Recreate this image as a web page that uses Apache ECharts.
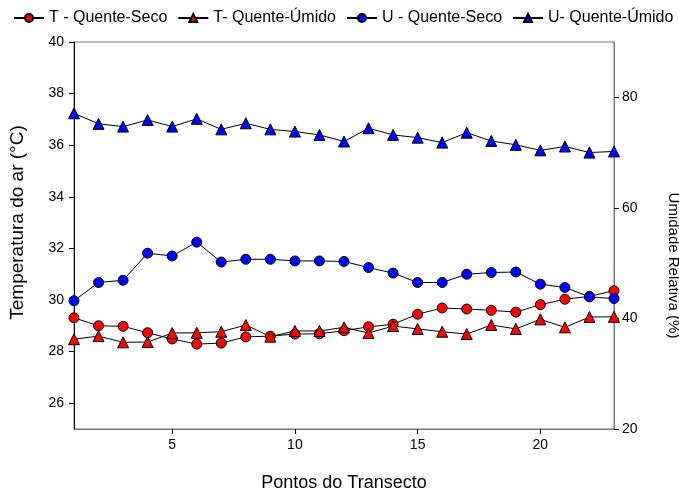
<!DOCTYPE html>
<html>
<head>
<meta charset="utf-8">
<script src="https://cdn.jsdelivr.net/npm/echarts@6/dist/echarts.min.js"></script>
<style>
  html, body { margin: 0; padding: 0; background: #fff; }
  #chart { width: 679px; height: 489px; }
</style>
</head>
<body>
<div id="chart"></div>
<script>
// pontos do transecto
const pontos = [1,2,3,4,5,6,7,8,9,10,11,12,13,14,15,16,17,18,19,20,21,22,23];

// temperatura (°C) - eixo esquerdo
const tQuenteSeco = [29.31,29.0,28.98,28.73,28.49,28.29,28.33,28.57,28.6,28.68,28.69,28.81,28.96,29.06,29.45,29.69,29.65,29.6,29.53,29.82,30.03,30.14,30.36];
const tQuenteUmido = [28.48,28.6,28.36,28.37,28.72,28.73,28.77,29.03,28.58,28.8,28.8,28.94,28.72,28.99,28.88,28.77,28.68,29.03,28.88,29.25,28.94,29.34,29.35];

// umidade relativa (%) - eixo direito
const uQuenteSeco = [43.2,46.5,46.9,51.8,51.3,53.8,50.2,50.7,50.7,50.4,50.4,50.3,49.2,48.2,46.5,46.5,48.0,48.3,48.4,46.2,45.6,43.9,43.6];
const uQuenteUmido = [77.1,75.2,74.7,75.9,74.7,76.1,74.2,75.3,74.2,73.8,73.2,72.0,74.4,73.2,72.7,71.8,73.6,72.1,71.4,70.4,71.1,70.0,70.2];

// marcas dos eixos
const xTicks = [5,10,15,20];
const tempTicks = [26,28,30,32,34,36,38,40];
const umidTicks = [20,40,60,80];

const chart = echarts.init(document.getElementById('chart'));

const font = 'Liberation Sans, Arial, sans-serif';

const pairs = (ys) => pontos.map((x, i) => [x, ys[i]]);

const mkSeries = (name, data, yIdx, symbol, color, size) => ({
  name: name,
  type: 'line',
  yAxisIndex: yIdx,
  data: pairs(data),
  symbol: symbol,
  symbolSize: size,
  lineStyle: { color: '#000', width: 1 },
  itemStyle: { color: color, borderColor: '#000', borderWidth: 1 },
  emphasis: { disabled: true },
  animation: false
});

const option = {
  animation: false,
  textStyle: { fontFamily: font },
  grid: {
    left: 74, right: 65, top: 42, bottom: 60,
    outerBoundsMode: 'none',
    containLabel: false,
    show: true, borderColor: '#777', borderWidth: 1
  },
  legend: {
    left: 8, top: 5,
    itemWidth: 30, itemHeight: 10, itemGap: 10,
    textStyle: { fontFamily: font, fontSize: 16, color: '#000' },
    data: ['T - Quente-Seco', 'T- Quente-Úmido', 'U - Quente-Seco', 'U- Quente-Úmido']
  },
  xAxis: {
    type: 'value',
    min: 1, max: 23,
    name: 'Pontos do Transecto',
    nameLocation: 'middle',
    nameGap: 45,
    nameTextStyle: { fontSize: 18, color: '#000' },
    axisLine: { lineStyle: { color: '#777' } },
    axisTick: { customValues: xTicks, length: 5, lineStyle: { color: '#000' } },
    axisLabel: { customValues: xTicks, fontSize: 14, color: '#000', margin: 9 },
    splitLine: { show: false }
  },
  yAxis: [
    {
      type: 'value',
      min: 25, max: 40,
      position: 'left',
      name: 'Temperatura do ar (°C)',
      nameLocation: 'middle',
      nameGap: 47,
      nameTextStyle: { fontSize: 19, color: '#000', padding: [0, 0, 0, 26] },
      axisLine: { show: true, lineStyle: { color: '#000' } },
      axisTick: { show: true, customValues: tempTicks, length: 5, lineStyle: { color: '#000' } },
      axisLabel: { customValues: tempTicks, fontSize: 14, color: '#000', margin: 10 },
      splitLine: { show: false }
    },
    {
      type: 'value',
      min: 20, max: 90,
      position: 'right',
      name: 'Umidade Relativa (%)',
      nameLocation: 'middle',
      nameRotate: -90,
      nameGap: 52,
      nameTextStyle: { fontSize: 15, color: '#000', padding: [0, 0, 0, 60] },
      axisLine: { show: true, lineStyle: { color: '#777' } },
      axisTick: { show: true, customValues: umidTicks, length: 5, lineStyle: { color: '#000' } },
      axisLabel: { customValues: umidTicks, fontSize: 14, color: '#000', margin: 8 },
      splitLine: { show: false }
    }
  ],
  series: [
    mkSeries('T - Quente-Seco', tQuenteSeco, 0, 'circle', '#ff0000', 10),
    mkSeries('T- Quente-Úmido', tQuenteUmido, 0, 'triangle', '#ff0000', 11),
    mkSeries('U - Quente-Seco', uQuenteSeco, 1, 'circle', '#0000ff', 10),
    mkSeries('U- Quente-Úmido', uQuenteUmido, 1, 'triangle', '#0000ff', 11)
  ]
};

chart.setOption(option);
</script>
</body>
</html>
